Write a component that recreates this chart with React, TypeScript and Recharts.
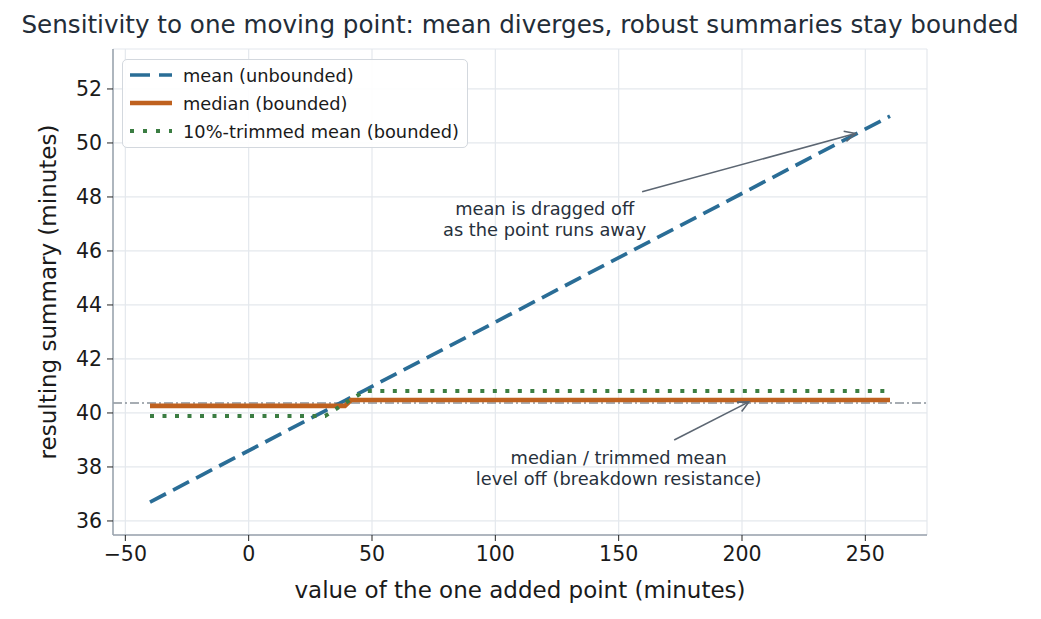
import React from "react"
import {
  LineChart, Line, XAxis, YAxis, CartesianGrid, ReferenceLine, ReferenceArea, ReferenceDot, Legend, Label,
} from "recharts"

// value of the added point and the resulting summaries
const addedPoint = [-40, 31, 39, 41.5, 47, 260]
const meanValues = [36.7, 40.08, 40.46, 40.58, 40.84, 50.99]
const medianValues = [40.26, 40.26, 40.26, 40.48, 40.48, 40.48]
const trimmedValues = [39.89, 39.89, 40.36, 40.5, 40.81, 40.81]
const baselineLevel = 40.37

const xTicks = [-50, 0, 50, 100, 150, 200, 250]
const yTicks = [36, 38, 40, 42, 44, 46, 48, 50, 52]

const data = addedPoint.map((x, i) => ({
  x,
  mean: meanValues[i],
  median: medianValues[i],
  trimmed: trimmedValues[i],
}))

const FONT = "'DejaVu Sans', sans-serif"
const BLUE = "#2a6d96"
const ORANGE = "#bf611f"
const GREEN = "#3b7d42"
const SPINE = "#98a2ad"
const GRID = "#e4e8ed"
const ANNO = "#27313c"
const ARROW = "#5c6672"

const fmt = (v: number) => (v < 0 ? `\u2212${-v}` : `${v}`)

const Arrow = (props: any) => {
  const { x1, y1, x2, y2 } = props
  const a = Math.atan2(y2 - y1, x2 - x1)
  const L = 12
  const w = 0.45
  const p1 = [x2 - L * Math.cos(a - w), y2 - L * Math.sin(a - w)]
  const p2 = [x2 - L * Math.cos(a + w), y2 - L * Math.sin(a + w)]
  return (
    <g>
      <line x1={x1} y1={y1} x2={x2} y2={y2} stroke={ARROW} strokeWidth={1.6} />
      <path d={`M${p1[0]},${p1[1]} L${x2},${y2} L${p2[0]},${p2[1]}`} fill="none" stroke={ARROW} strokeWidth={1.6} />
    </g>
  )
}

const note = (lines: string[]) => (props: any) => {
  const { cx, cy } = props
  return (
    <text x={cx} y={cy} textAnchor="middle" fontFamily={FONT} fontSize={17.8} fill={ANNO}>
      {lines.map((t, i) => (
        <tspan key={i} x={cx} dy={i === 0 ? -4 : 21.5}>{t}</tspan>
      ))}
    </text>
  )
}

const legendItems = [
  { label: "mean (unbounded)", color: BLUE, width: 3.5, dash: "20 9" },
  { label: "median (bounded)", color: ORANGE, width: 4.5, dash: "" },
  { label: "10%-trimmed mean (bounded)", color: GREEN, width: 4, dash: "4 9" },
]

const LegendBox = () => (
  <div style={{
    border: "1px solid #d3d8de", borderRadius: 5, background: "rgba(255,255,255,0.9)",
    padding: "1px 8px 2px 7px", fontFamily: FONT, fontSize: 17.8, color: "#1a1a1a",
  }}>
    {legendItems.map((it) => (
      <div key={it.label} style={{ display: "flex", alignItems: "center", height: 28 }}>
        <svg width={42} height={10} style={{ marginRight: 11 }}>
          <line x1={0} y1={5} x2={42} y2={5} stroke={it.color} strokeWidth={it.width} strokeDasharray={it.dash || undefined} />
        </svg>
        <span style={{ whiteSpace: "nowrap" }}>{it.label}</span>
      </div>
    ))}
  </div>
)

export default function App() {
  return (
    <div style={{ position: "relative", width: 1025, height: 603 }}>
      <div style={{
        position: "absolute", top: 2, left: 0, width: 1024, textAlign: "center",
        fontFamily: FONT, fontSize: 24.6, color: "#232d38", whiteSpace: "nowrap",
      }}>
        Sensitivity to one moving point: mean diverges, robust summaries stay bounded
      </div>
      <LineChart width={1025} height={603} data={data} margin={{ top: 41, right: 106, bottom: 16, left: 0 }}>
        <CartesianGrid stroke={GRID} strokeWidth={1.2} />
        <XAxis
          dataKey="x" type="number" domain={[-55, 275]} ticks={xTicks} allowDataOverflow
          tickFormatter={fmt} height={60} axisLine={{ stroke: SPINE, strokeWidth: 1.5 }}
          tickLine={{ stroke: "#222" }} tickSize={6} tickMargin={5}
          tick={{ fontFamily: FONT, fontSize: 20.5, fill: "#1a1a1a" }}
        >
          <Label content={({ viewBox }: any) => (
            <text x={viewBox.x + viewBox.width / 2} y={viewBox.y + 63} textAnchor="middle"
              fontFamily={FONT} fontSize={23} fill="#1a1a1a">value of the one added point (minutes)</text>
          )} />
        </XAxis>
        <YAxis
          type="number" domain={[35.48, 53.48]} ticks={yTicks} allowDataOverflow width={105}
          axisLine={{ stroke: SPINE, strokeWidth: 1.5 }} tickLine={{ stroke: "#222" }} tickSize={6} tickMargin={5}
          tick={{ fontFamily: FONT, fontSize: 20.5, fill: "#1a1a1a" }}
        >
          <Label content={({ viewBox }: any) => {
            const cx = viewBox.x + 40
            const cy = viewBox.y + viewBox.height / 2
            return (
              <text x={cx} y={cy} transform={`rotate(-90 ${cx} ${cy})`} textAnchor="middle" dominantBaseline="central"
                fontFamily={FONT} fontSize={23} fill="#1a1a1a">resulting summary (minutes)</text>
            )
          }} />
        </YAxis>
        <ReferenceLine y={baselineLevel} stroke="#8a929b" strokeWidth={1.5} strokeDasharray="9 3 2 3" />
        <Line dataKey="mean" type="linear" stroke={BLUE} strokeWidth={3.7} strokeDasharray="18 8" dot={false} isAnimationActive={false} />
        <Line dataKey="median" type="linear" stroke={ORANGE} strokeWidth={4.7} dot={false} isAnimationActive={false} />
        <Line dataKey="trimmed" type="linear" stroke={GREEN} strokeWidth={4} strokeDasharray="4 8.5" dot={false} isAnimationActive={false} />
        <ReferenceLine segment={[{ x: 159.5, y: 48.19 }, { x: 246, y: 50.35 }]} shape={Arrow} />
        <ReferenceLine segment={[{ x: 172.5, y: 39.0 }, { x: 202.8, y: 40.41 }]} shape={Arrow} />
        <ReferenceDot x={120} y={47.19} r={0} shape={note(["mean is dragged off", "as the point runs away"])} />
        <ReferenceDot x={150} y={37.98} r={0} shape={note(["median / trimmed mean", "level off (breakdown resistance)"])} />
        <ReferenceArea fill="none" stroke={SPINE} strokeWidth={1.5} fillOpacity={0} />
        <Legend
          layout="vertical" align="center" verticalAlign="middle" content={() => <LegendBox />}
          wrapperStyle={{ position: "absolute", left: 114, top: 51, width: "auto", height: "auto" }}
        />
      </LineChart>
    </div>
  )
}
